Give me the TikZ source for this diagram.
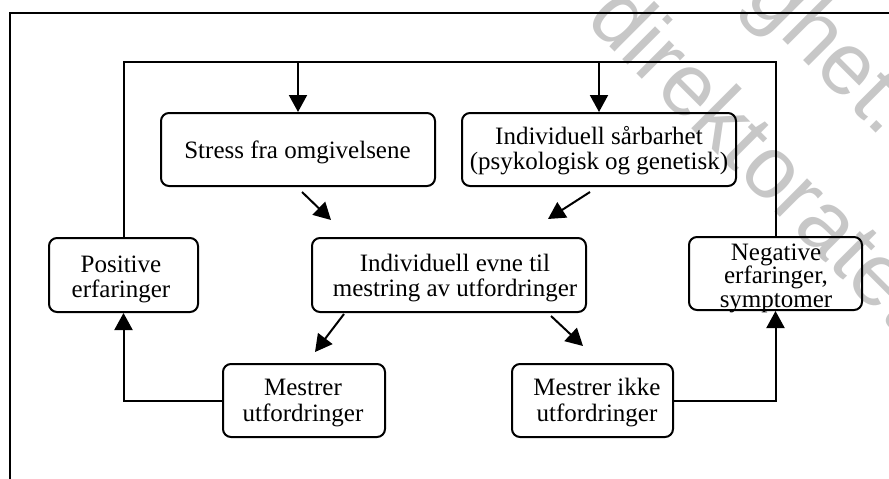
\documentclass[tikz,border=0pt]{standalone}
\usepackage{fontspec}
\setmainfont{Liberation Serif}
\newfontfamily\wmfont{Liberation Sans}
\usetikzlibrary{arrows.meta,calc}
\begin{document}
\begin{tikzpicture}[x=1pt,y=-1pt,
  box/.style={draw, line width=2pt, rounded corners=8pt, inner sep=0pt},
  txt/.style={inner sep=0pt, align=center, font=\fontsize{25}{25.5}\selectfont},
  link/.style={line width=2pt},
  arr/.style={line width=2pt, -{Triangle[length=17pt,width=18pt]}},
  wmtext/.style={inner sep=0pt, text=black!22, font=\wmfont\fontsize{88}{88}\selectfont}
]
\useasboundingbox (0,0) rectangle (889,479);

% faint background stamp
\begin{scope}
  \clip (0,0) rectangle (889,479);
  \node[wmtext, rotate=-45, anchor=base west] (wmA) at (584,21) {direktoratet};
  \node[wmtext, rotate=-45, anchor=base east] (wmB) at (882,139) {ghet.};
\end{scope}

% outer frame
\coordinate (frameTR) at (889,12.5);
\coordinate (frameTL) at (10,12.5);
\coordinate (frameBL) at (10,479);
\draw[link] (frameTR) -- (frameTL) -- (frameBL);

% boxes
\node[box, minimum width=274pt, minimum height=73pt] (stress)   at (298,149.5) {};
\node[box, minimum width=274pt, minimum height=73pt] (vuln)     at (599,149.5) {};
\node[box, minimum width=274pt, minimum height=74pt] (central)  at (449,275) {};
\node[box, minimum width=149pt, minimum height=74pt] (pos)      at (123.5,275) {};
\node[box, minimum width=173pt, minimum height=73pt] (neg)      at (775.5,273.5) {};
\node[box, minimum width=162pt, minimum height=73pt] (mest)     at (304,400.5) {};
\node[box, minimum width=161pt, minimum height=73pt] (mestikke) at (592.5,400.5) {};

% labels (anchor base = baseline of the last line)
\node[txt, anchor=base] (stressT) at (297.5,158) {Stress fra omgivelsene};
\node[txt, anchor=base, font=\fontsize{25}{25}\selectfont] (vulnT) at (599,169) {Individuell sårbarhet\\(psykologisk og genetisk)};
\node[txt, anchor=base, font=\fontsize{25}{25}\selectfont] (centralT) at (455,296.5) {Individuell evne til\\mestring av utfordringer};
\node[txt, anchor=base, font=\fontsize{25}{24.5}\selectfont] (posT) at (121,297) {Positive\\erfaringer};
\node[txt, anchor=base, font=\fontsize{25}{23.5}\selectfont] (negT) at (776,307) {Negative\\erfaringer,\\symptomer};
\node[txt, anchor=base, font=\fontsize{25}{25.7}\selectfont] (mestT) at (303,421) {Mestrer\\utfordringer};
\node[txt, anchor=base, font=\fontsize{25}{25.7}\selectfont] (mestikkeT) at (597,421) {Mestrer ikke\\utfordringer};

% feedback loop
\coordinate (loopL) at (pos.north |- 0,62);
\coordinate (loopR) at (neg.north |- 0,62);
\draw[link] (pos.north) -- (loopL) -- (loopR) -- (neg.north);
\draw[arr] (stress.north |- loopL) -- (stress.north);
\draw[arr] (vuln.north |- loopL) -- (vuln.north);
\draw[arr] (mest.west) -| (pos.south);
\draw[arr] (mestikke.east) -| (neg.south);

% influences on coping
\draw[arr] ($(stress.south)+(4,5)$) -- ($(central.north west)+(20,-17)$);
\draw[arr] ($(vuln.south)+(-9,5)$) -- ($(central.north east)+(-39,-18)$);
\draw[arr] ($(central.south west)+(33,1)$) -- ($(mest.north)+(11,-11)$);
\draw[arr] ($(central.south east)+(-36,3)$) -- ($(mestikke.north)+(-9.5,-17)$);
\end{tikzpicture}
\end{document}
